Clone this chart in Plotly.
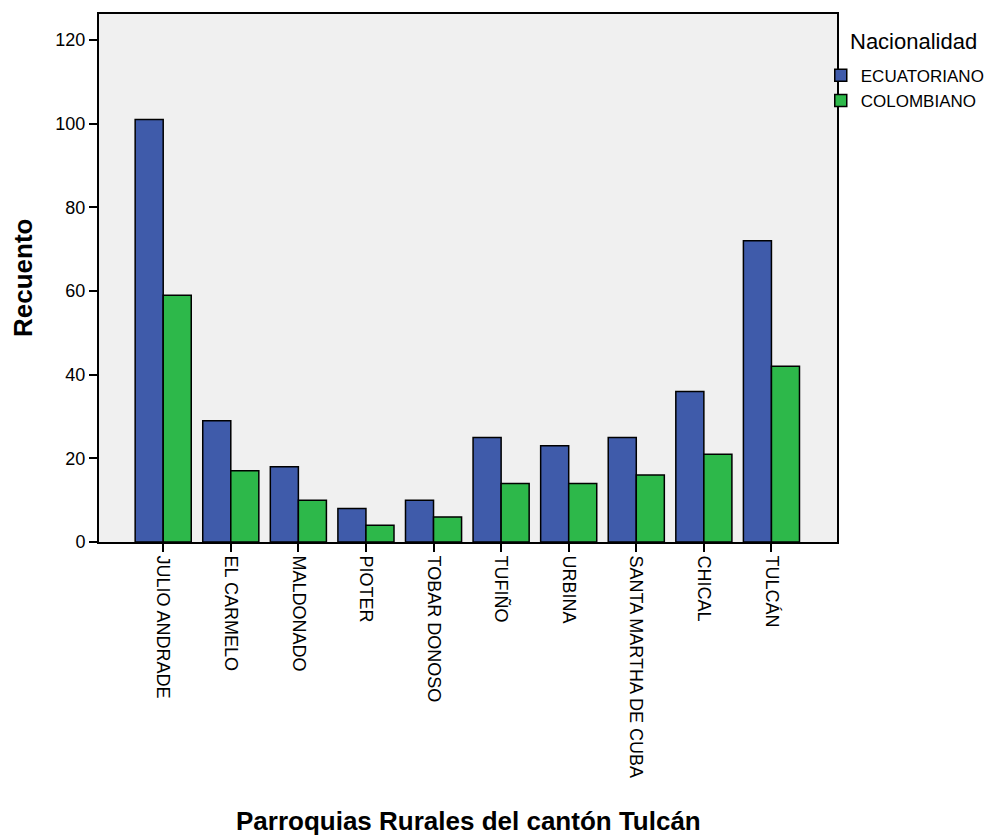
import plotly.graph_objects as go

categories = ["JULIO ANDRADE", "EL CARMELO", "MALDONADO", "PIOTER", "TOBAR DONOSO",
              "TUFIÑO", "URBINA", "SANTA MARTHA DE CUBA", "CHICAL", "TULCÁN"]
ecuatoriano = [101, 29, 18, 8, 10, 25, 23, 25, 36, 72]
colombiano = [59, 17, 10, 4, 6, 14, 14, 16, 21, 42]
y_ticks = [0, 20, 40, 60, 80, 100, 120]

FONT = "Liberation Sans, Arial, sans-serif"

fig = go.Figure()
fig.add_bar(name="ECUATORIANO", x=categories, y=ecuatoriano,
            marker=dict(color="#3F5BAA", line=dict(color="black", width=1.5)))
fig.add_bar(name="COLOMBIANO", x=categories, y=colombiano,
            marker=dict(color="#2DB84A", line=dict(color="black", width=1.5)))

fig.update_layout(
    width=1003, height=836,
    margin=dict(l=91, r=174, t=6, b=302),
    barmode="group", bargap=0.17, bargroupgap=0,
    plot_bgcolor="#F0F0F0", paper_bgcolor="white",
    font=dict(family=FONT, color="black", size=18),
    showlegend=True,
    legend=dict(x=0.978, xanchor="left", y=0.917, yanchor="top",
                bgcolor="rgba(0,0,0,0)",
                font=dict(size=17), tracegroupgap=0, itemwidth=30),
    xaxis=dict(range=[-0.95, 9.97], tickangle=90, ticks="outside", ticklen=8,
               tickwidth=2, tickcolor="black", showline=True, linecolor="black",
               linewidth=2, mirror=True, automargin=False,
               tickfont=dict(size=18)),
    yaxis=dict(range=[0, 126.2], tickvals=y_ticks, ticks="outside", ticklen=8,
               tickwidth=2, tickcolor="black", showline=True, linecolor="black",
               linewidth=2, mirror=True, showgrid=False, zeroline=False,
               automargin=False, tickfont=dict(size=18)),
    annotations=[
        dict(text="<b>Recuento</b>", x=0, y=0.5, xref="paper", yref="paper",
             xanchor="center", yanchor="middle", xshift=-76, textangle=-90,
             showarrow=False, font=dict(size=26)),
        dict(text="<b>Parroquias Rurales del cantón Tulcán</b>", x=0.5, y=0,
             xref="paper", yref="paper", xanchor="center", yanchor="middle",
             yshift=-279, showarrow=False, font=dict(size=26)),
        dict(text="Nacionalidad", x=1, y=1, xref="paper", yref="paper",
             xanchor="left", yanchor="middle", xshift=11, yshift=-27,
             showarrow=False, font=dict(size=22)),
    ],
)

fig.write_html("out.html")
